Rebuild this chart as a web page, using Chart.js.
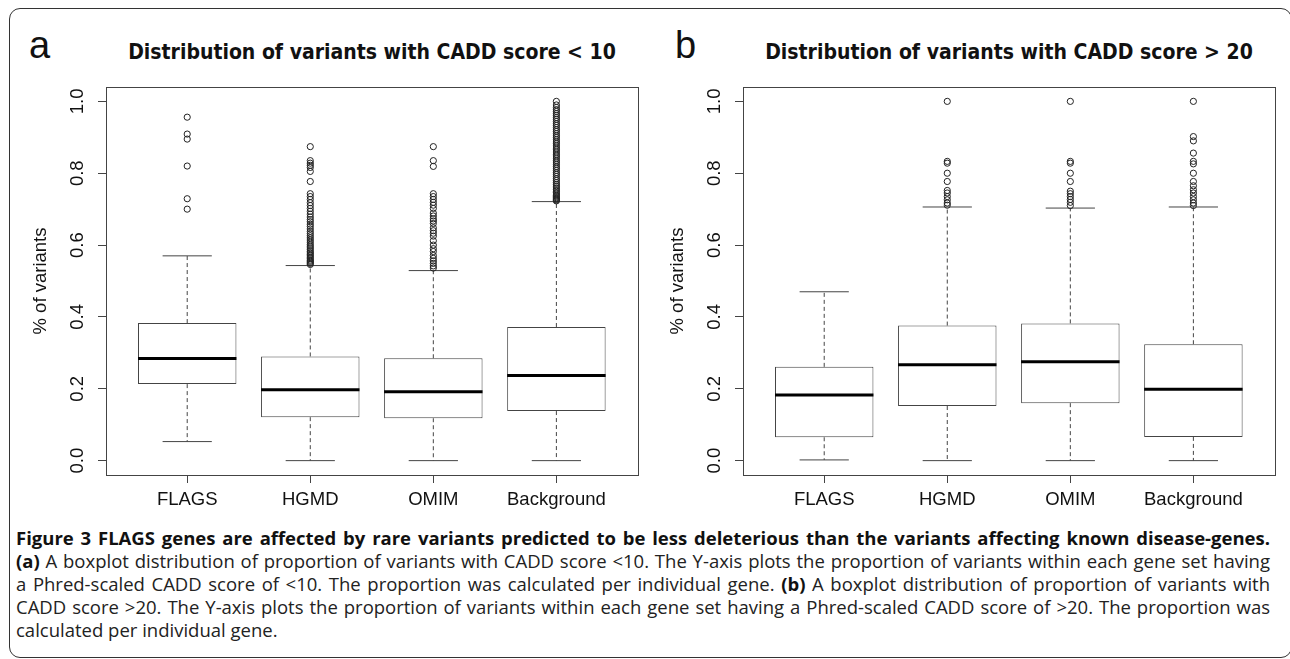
<!DOCTYPE html>
<html>
<head>
<meta charset="utf-8">
<script src="https://cdn.jsdelivr.net/npm/chart.js@4.4.1/dist/chart.umd.min.js"></script>
<style>
  body { margin: 0; background: #fff; }
  #page { position: relative; width: 1290px; height: 659px; overflow: hidden; background: #fff; }
  #frame { position: absolute; left: 9px; top: 8px; width: 1283px; height: 650px; box-sizing: border-box;
           border: 1.5px solid #333; border-radius: 11px; }
  .letter { position: absolute; top: 26px; font: 38px/38px 'Liberation Sans', Arial, sans-serif; color: #111; }
  .ptitle { position: absolute; top: 40px; width: 532px; text-align: center; color: #111;
            font: bold 21px/24px 'Liberation Sans Narrow', 'Arial Narrow', 'DejaVu Sans Condensed', sans-serif; }
  canvas { position: absolute; top: 0; }
  #caption { position: absolute; left: 16px; top: 526px; width: 1254px; color: #222;
             font: 18.5px/23px 'Open Sans', 'Noto Sans', sans-serif; }
  #caption div { white-space: nowrap; text-align: justify; text-align-last: justify; }
  #caption div.last { text-align-last: left; }
  #caption b { color: #111; }
</style>
</head>
<body>
<div id="page">
  <div id="frame"></div>
  <div class="letter" style="left:29px">a</div>
  <div class="letter" style="left:675px">b</div>
  <div class="ptitle" style="left:106px">Distribution of variants with CADD score &lt; 10</div>
  <div class="ptitle" style="left:743px">Distribution of variants with CADD score &gt; 20</div>
  <canvas id="chartA" width="645" height="520" style="left:0px"></canvas>
  <canvas id="chartB" width="645" height="520" style="left:637px"></canvas>
  <div id="caption">
    <div><b>Figure 3 FLAGS genes are affected by rare variants predicted to be less deleterious than the variants affecting known disease-genes.</b></div>
    <div><b>(a)</b> A boxplot distribution of proportion of variants with CADD score &lt;10. The Y-axis plots the proportion of variants within each gene set having</div>
    <div>a Phred-scaled CADD score of &lt;10. The proportion was calculated per individual gene. <b>(b)</b> A boxplot distribution of proportion of variants with</div>
    <div>CADD score &gt;20. The Y-axis plots the proportion of variants within each gene set having a Phred-scaled CADD score of &gt;20. The proportion was</div>
    <div class="last">calculated per individual gene.</div>
  </div>
</div>
<script>
const categories = ['FLAGS', 'HGMD', 'OMIM', 'Background'];
const categoryPositions = [1, 2, 3, 4];
const yTicks = [0, 0.2, 0.4, 0.6, 0.8, 1.0];

// panel a: CADD score < 10
const lowerA = [0.053, 0, 0, 0];
const q1A = [0.213, 0.121, 0.118, 0.138];
const medianA = [0.284, 0.197, 0.192, 0.237];
const q3A = [0.383, 0.290, 0.285, 0.372];
const upperA = [0.570, 0.543, 0.529, 0.721];
const outliersA = [
    [0.956, 0.909, 0.895, 0.820, 0.729, 0.700],
    [0.874, 0.835, 0.828, 0.822, 0.816, 0.805, 0.777, 0.743, 0.735, 0.727, 0.718, 0.710, 0.702, 0.694,
     0.686, 0.678, 0.671, 0.665, 0.658, 0.652, 0.645, 0.638, 0.632, 0.626, 0.620, 0.614, 0.608, 0.602,
     0.597, 0.592, 0.587, 0.582, 0.578, 0.574, 0.570, 0.566, 0.562, 0.558, 0.555, 0.552, 0.549, 0.546],
    [0.874, 0.835, 0.819, 0.743, 0.735, 0.727, 0.719, 0.711, 0.702, 0.689, 0.681, 0.673, 0.667, 0.660,
     0.648, 0.640, 0.633, 0.625, 0.612, 0.600, 0.590, 0.582, 0.571, 0.563, 0.556, 0.549, 0.542, 0.536],
    [1.000, 0.990, 0.983, 0.977, 0.972, 0.966, 0.961, 0.955, 0.950, 0.944, 0.938, 0.933, 0.927, 0.921,
     0.916, 0.910, 0.904, 0.899, 0.893, 0.887, 0.882, 0.876, 0.870, 0.865, 0.859, 0.853, 0.848, 0.842,
     0.836, 0.831, 0.825, 0.819, 0.814, 0.808, 0.802, 0.797, 0.791, 0.785, 0.780, 0.774, 0.769, 0.764,
     0.759, 0.754, 0.750, 0.746, 0.742, 0.738, 0.735, 0.732, 0.729, 0.727, 0.725, 0.723]
];

// panel b: CADD score > 20
const lowerB = [0.002, 0, 0, 0];
const q1B = [0.065, 0.152, 0.160, 0.066];
const medianB = [0.183, 0.267, 0.275, 0.199];
const q3B = [0.261, 0.376, 0.382, 0.324];
const upperB = [0.470, 0.706, 0.703, 0.706];
const outliersB = [
    [],
    [1.000, 0.833, 0.828, 0.800, 0.777, 0.752, 0.745, 0.735, 0.726, 0.717, 0.711],
    [1.000, 0.833, 0.828, 0.800, 0.777, 0.750, 0.743, 0.735, 0.727, 0.719, 0.710],
    [1.000, 0.902, 0.890, 0.856, 0.833, 0.826, 0.800, 0.777, 0.765, 0.754, 0.745, 0.735, 0.726, 0.717, 0.710]
];

const axisFont = { family: "'Liberation Sans', Arial, sans-serif", size: 18.5 };
const lineColor = '#444';

// pixel length of a span of x units
const unitPx = (chart, units) => {
    const x = chart.scales.x;
    return Math.abs(x.getPixelForValue(1 + units) - x.getPixelForValue(1));
};

// the closed frame round the plot region
const plotBox = {
    id: 'plotBox',
    afterDatasetsDraw(chart) {
        const { ctx, chartArea: a } = chart;
        ctx.save();
        ctx.strokeStyle = lineColor;
        ctx.lineWidth = 1;
        ctx.strokeRect(Math.round(a.left) + 0.5, Math.round(a.top) + 0.5,
                       Math.round(a.right - a.left), Math.round(a.bottom - a.top));
        ctx.restore();
    }
};

const addBoxChart = (canvasId, lower, q1, median, q3, upper, outliers) => {
    const whiskers = [];
    categoryPositions.forEach((x, i) => {
        whiskers.push({ x, y: q3[i] }, { x, y: upper[i] }, { x, y: null },
                      { x, y: q1[i] }, { x, y: lower[i] }, { x, y: null });
    });
    const caps = categoryPositions.flatMap((x, i) => [{ x, y: upper[i] }, { x, y: lower[i] }]);
    const points = categoryPositions.flatMap((x, i) => outliers[i].map(y => ({ x, y })));

    const tickGrid = { display: true, drawOnChartArea: false, drawTicks: true, tickLength: 8,
                       color: lineColor, lineWidth: 1, offset: false };

    new Chart(document.getElementById(canvasId), {
        type: 'bar',
        data: {
            datasets: [
                {
                    type: 'scatter', order: 1, data: points,
                    pointStyle: 'circle', pointRadius: 3.1, pointBorderWidth: 1,
                    pointBorderColor: '#222', pointBackgroundColor: 'rgba(0,0,0,0)'
                },
                {
                    type: 'scatter', order: 2,
                    data: categoryPositions.map((x, i) => ({ x, y: median[i] })),
                    pointStyle: 'line', pointRadius: c => unitPx(c.chart, 0.4),
                    pointBorderWidth: 3, pointBorderColor: '#000'
                },
                {
                    type: 'scatter', order: 3, data: caps,
                    pointStyle: 'line', pointRadius: c => unitPx(c.chart, 0.2),
                    pointBorderWidth: 1, pointBorderColor: lineColor
                },
                {
                    type: 'line', order: 4, data: whiskers,
                    borderColor: lineColor, borderWidth: 1, borderDash: [4, 3],
                    pointRadius: 0, spanGaps: false, tension: 0
                },
                {
                    type: 'bar', order: 5,
                    data: categoryPositions.map((x, i) => ({ x, y: [q1[i], q3[i]] })),
                    backgroundColor: '#fff', borderColor: lineColor, borderWidth: 1,
                    borderSkipped: false, barPercentage: 0.8, categoryPercentage: 1
                }
            ]
        },
        options: {
            responsive: false,
            animation: false,
            events: [],
            layout: { padding: { top: 87, right: 7.4, bottom: 0, left: 0 } },
            plugins: {
                legend: { display: false },
                tooltip: { enabled: false },
                title: { display: false }
            },
            scales: {
                x: {
                    type: 'linear', min: 0.34, max: 4.66, offset: false,
                    afterBuildTicks: s => { s.ticks = categoryPositions.map(v => ({ value: v })); },
                    afterFit: s => { s.height = 45; },
                    grid: tickGrid,
                    border: { display: false },
                    ticks: {
                        callback: (v, i) => categories[i],
                        autoSkip: false, maxRotation: 0, padding: 6,
                        color: '#111', font: axisFont
                    }
                },
                y: {
                    type: 'linear', position: 'left', min: -0.04, max: 1.04,
                    afterBuildTicks: s => { s.ticks = yTicks.map(v => ({ value: v })); },
                    afterFit: s => { s.width = 106; },
                    grid: tickGrid,
                    border: { display: false },
                    ticks: {
                        callback: v => v.toFixed(1),
                        autoSkip: false, minRotation: 90, maxRotation: 90,
                        crossAlign: 'center', padding: 7,
                        color: '#111', font: axisFont
                    },
                    title: {
                        display: true, text: '% of variants', color: '#111',
                        font: axisFont, padding: { top: 30, bottom: 0 }
                    }
                }
            }
        },
        plugins: [plotBox]
    });
};

addBoxChart('chartA', lowerA, q1A, medianA, q3A, upperA, outliersA);
addBoxChart('chartB', lowerB, q1B, medianB, q3B, upperB, outliersB);
</script>
</body>
</html>
